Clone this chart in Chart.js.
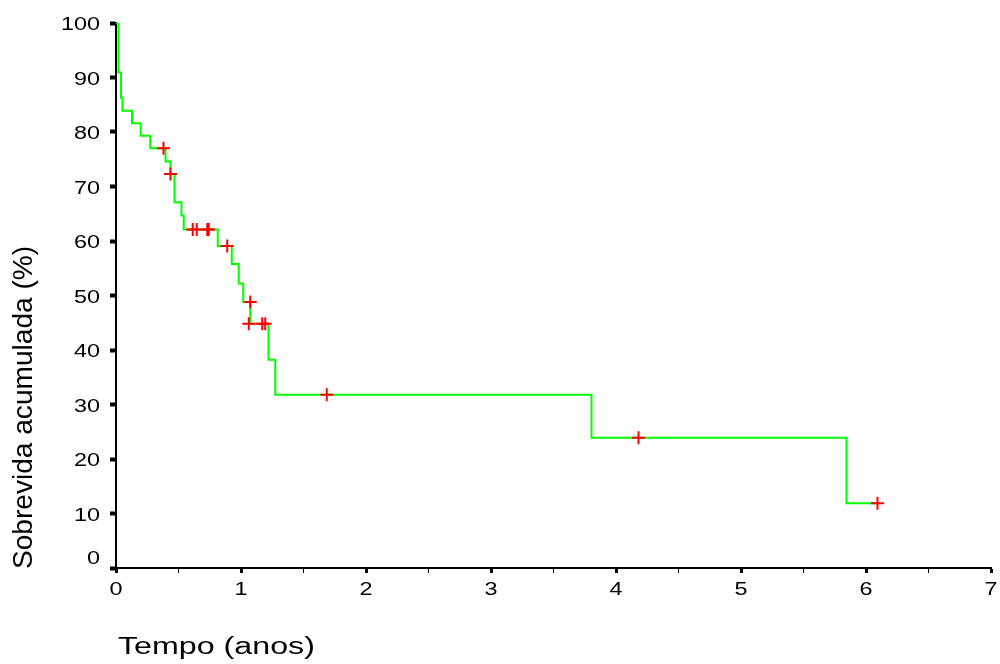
<!DOCTYPE html>
<html lang="pt">
<head>
<meta charset="utf-8">
<title>Sobrevida acumulada</title>
<script src="https://cdn.jsdelivr.net/npm/chart.js@4/dist/chart.umd.min.js"></script>
<style>
  html, body { margin: 0; padding: 0; background: #ffffff; }
  canvas { display: block; }
</style>
</head>
<body>
<canvas id="km" width="1000" height="664"></canvas>
<script>
// Kaplan-Meier curve: times (years) at which the estimate drops, and the survival (%) after each drop
const stepTimes    = [0, 0.02, 0.04, 0.052, 0.128, 0.198, 0.274, 0.396, 0.436, 0.468, 0.524, 0.542, 0.814, 0.926, 0.982, 1.018, 1.074, 1.22, 1.274, 3.804, 5.844];
const stepSurvival = [100, 90.9, 86.3, 83.9, 81.6, 79.3, 77.0, 74.6, 72.3, 67.1, 64.7, 62.1, 59.1, 55.8, 52.2, 48.8, 44.8, 38.2, 31.8, 23.9, 11.9];
const followUpEnd  = 6.1;

// Censored observations
const censorTimes    = [0.38, 0.436, 0.614, 0.646, 0.73, 0.742, 0.89, 1.074, 1.062, 1.17, 1.194, 1.686, 4.18, 6.092];
const censorSurvival = [77.0, 72.3, 62.1, 62.1, 62.1, 62.1, 59.1, 48.8, 44.8, 44.8, 44.8, 31.8, 23.9, 11.9];

// Axis labels
const xTickLabels = ['0', '1', '2', '3', '4', '5', '6', '7'];
const yTickLabels = ['0', '10', '20', '30', '40', '50', '60', '70', '80', '90', '100'];
const xTitle = 'Tempo (anos)';
const yTitle = 'Sobrevida acumulada (%)';

const curvePoints = stepTimes.map((t, i) => ({ x: t, y: stepSurvival[i] }));
curvePoints.push({ x: followUpEnd, y: stepSurvival[stepSurvival.length - 1] });
const censorPoints = censorTimes.map((t, i) => ({ x: t, y: censorSurvival[i] }));

const FONT = '"Liberation Sans", Arial, sans-serif';

// Draws tick labels and axis titles with the wide lettering of the original plot
const axisText = {
  id: 'axisText',
  afterDraw(chart) {
    const { ctx, scales: { x, y } } = chart;
    ctx.save();
    ctx.fillStyle = '#000';

    ctx.font = '18px ' + FONT;
    ctx.textBaseline = 'alphabetic';
    yTickLabels.forEach(lbl => {
      const v = Number(lbl);
      const py = y.getPixelForValue(v) + (v === 0 ? -4 : 7);
      ctx.save();
      ctx.translate(x.left - 16, py);
      ctx.scale(1.3, 1);
      ctx.textAlign = 'right';
      ctx.fillText(lbl, 0, 0);
      ctx.restore();
    });
    xTickLabels.forEach(lbl => {
      const px = x.getPixelForValue(Number(lbl));
      ctx.save();
      ctx.translate(px, y.bottom + 27);
      ctx.scale(1.3, 1);
      ctx.textAlign = 'center';
      ctx.fillText(lbl, 0, 0);
      ctx.restore();
    });

    // x-axis title
    ctx.save();
    ctx.font = '23px ' + FONT;
    ctx.translate(x.left + 2, y.bottom + 86);
    ctx.scale(1.4, 1);
    ctx.textAlign = 'left';
    ctx.fillText(xTitle, 0, 0);
    ctx.restore();

    // y-axis title
    ctx.save();
    ctx.font = '27px ' + FONT;
    ctx.translate(32, y.bottom + 1);
    ctx.rotate(-Math.PI / 2);
    ctx.scale(1.04, 1);
    ctx.textAlign = 'left';
    ctx.fillText(yTitle, 0, 0);
    ctx.restore();

    ctx.restore();
  }
};

new Chart(document.getElementById('km'), {
  type: 'scatter',
  data: {
    datasets: [
      {
        label: 'Censurado',
        data: censorPoints,
        order: 0,
        showLine: false,
        pointStyle: 'cross',
        pointRadius: 6.5,
        pointBorderWidth: 2,
        borderColor: '#ff0000',
        backgroundColor: '#ff0000'
      },
      {
        label: 'Sobrevida',
        data: curvePoints,
        order: 1,
        showLine: true,
        stepped: true,
        borderColor: '#00ff00',
        borderWidth: 2,
        pointRadius: 0,
        fill: false
      }
    ]
  },
  options: {
    responsive: false,
    animation: false,
    layout: { padding: { top: 23, right: 9, left: 0, bottom: 0 } },
    plugins: { legend: { display: false }, tooltip: { enabled: false } },
    scales: {
      x: {
        type: 'linear',
        min: 0,
        max: 7,
        afterFit(scale) { scale.height = 96; },
        border: { color: '#000', width: 2 },
        grid: {
          drawOnChartArea: false,
          drawTicks: true,
          tickLength: 5,
          tickColor: '#000',
          tickWidth: ctx => (ctx.tick && Number.isInteger(ctx.tick.value) ? 3 : 1)
        },
        ticks: { stepSize: 0.5, autoSkip: false, display: false }
      },
      y: {
        type: 'linear',
        min: 0,
        max: 100,
        afterFit(scale) { scale.width = 116; },
        border: { color: '#000', width: 2 },
        grid: {
          drawOnChartArea: false,
          drawTicks: true,
          tickLength: 6,
          tickWidth: 4,
          tickColor: '#000'
        },
        ticks: { stepSize: 10, autoSkip: false, display: false }
      }
    }
  },
  plugins: [axisText]
});
</script>
</body>
</html>
